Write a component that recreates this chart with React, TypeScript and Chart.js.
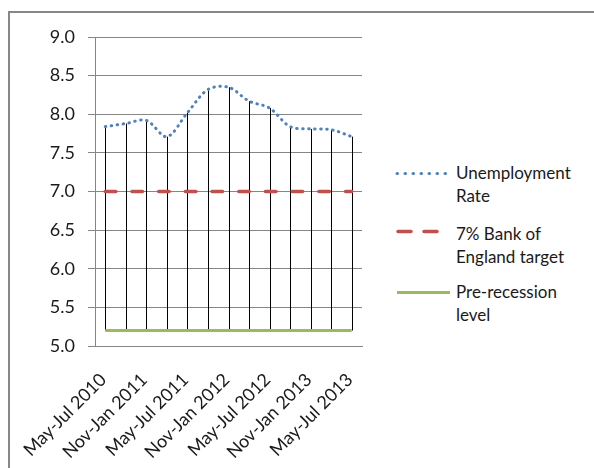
import React, { useEffect, useRef } from "react";
import { Chart, registerables } from "chart.js";

Chart.register(...registerables);

const categories = [
  "May-Jul 2010", "Aug-Oct 2010", "Nov-Jan 2011", "Feb-Apr 2011",
  "May-Jul 2011", "Aug-Oct 2011", "Nov-Jan 2012", "Feb-Apr 2012",
  "May-Jul 2012", "Aug-Oct 2012", "Nov-Jan 2013", "Feb-Apr 2013",
  "May-Jul 2013",
];
const unemploymentRate = [7.84, 7.88, 7.92, 7.71, 8.02, 8.32, 8.35, 8.17, 8.08, 7.84, 7.81, 7.8, 7.71];
const boeTarget = [7, 7, 7, 7, 7, 7, 7, 7, 7, 7, 7, 7, 7];
const preRecession = [5.2, 5.2, 5.2, 5.2, 5.2, 5.2, 5.2, 5.2, 5.2, 5.2, 5.2, 5.2, 5.2];
const seriesNames = ["Unemployment Rate", "7% Bank of England target", "Pre-recession level"];
const legendLines = [["Unemployment", "Rate"], ["7% Bank of", "England target"], ["Pre-recession", "level"]];

const BLUE = "#4F81BD";
const RED = "#C0504D";
const GREEN = "#9BBB59";
const GRID = "#868686";
const FONT = "Lato, 'Open Sans', sans-serif";

const highLowPlugin = {
  id: "highLow",
  beforeDatasetsDraw(chart: any) {
    const { ctx } = chart;
    const x = chart.scales.x;
    const y = chart.scales.y;
    const sets = chart.data.datasets;
    ctx.save();
    ctx.strokeStyle = "#000";
    ctx.lineWidth = 1;
    for (let i = 0; i < categories.length; i++) {
      const vals = sets.map((d: any) => d.data[i] as number);
      const hi = Math.max(...vals);
      const lo = Math.min(...vals);
      const px = Math.round(x.getPixelForValue(i)) + 0.5;
      ctx.beginPath();
      ctx.moveTo(px, y.getPixelForValue(hi));
      ctx.lineTo(px, y.getPixelForValue(lo));
      ctx.stroke();
    }
    ctx.restore();
  },
};

export default function App() {
  const ref = useRef<HTMLCanvasElement>(null);
  useEffect(() => {
    document.body.style.margin = "0";
    const chart = new Chart(ref.current!, {
      type: "line",
      data: {
        labels: categories,
        datasets: [
          {
            label: seriesNames[0],
            data: unemploymentRate,
            borderColor: BLUE,
            borderWidth: 3,
            borderDash: [0.5, 5.5],
            borderCapStyle: "round",
            tension: 0.33,
            pointRadius: 0,
            fill: false,
          },
          {
            label: seriesNames[1],
            data: boeTarget,
            borderColor: RED,
            borderWidth: 3.5,
            borderDash: [10.5, 16.2],
            borderCapStyle: "round",
            pointRadius: 0,
            fill: false,
          },
          {
            label: seriesNames[2],
            data: preRecession,
            borderColor: GREEN,
            borderWidth: 3,
            pointRadius: 0,
            fill: false,
          },
        ],
      },
      options: {
        animation: false,
        responsive: false,
        maintainAspectRatio: false,
        layout: { padding: { left: 0, top: 37, right: 18, bottom: 0 } },
        plugins: { legend: { display: false }, tooltip: { enabled: false } },
        scales: {
          x: {
            offset: true,
            grid: { display: false, drawTicks: false },
            border: { display: true, color: GRID },
            ticks: {
              autoSkip: false,
              minRotation: 45,
              maxRotation: 45,
              padding: 23,
              labelOffset: -2,
              color: "#1a1a1a",
              font: { family: FONT, size: 18 },
              callback: (_v: any, i: number) => (i % 2 === 0 ? categories[i] : ""),
            },
            afterFit: (s: any) => {
              s.height = 122;
              s.paddingLeft = 0;
              s.paddingRight = 0;
            },
          },
          y: {
            min: 5,
            max: 9,
            grid: { color: GRID, lineWidth: 1, tickLength: 7, drawTicks: true },
            border: { display: true, color: GRID },
            ticks: {
              stepSize: 0.5,
              padding: 13,
              color: "#1a1a1a",
              font: { family: FONT, size: 18 },
              callback: (v: any) => Number(v).toFixed(1),
            },
            afterFit: (s: any) => { s.width = 95; },
          },
        },
      },
      plugins: [highLowPlugin],
    });
    return () => chart.destroy();
  }, []);

  const legendTops = [161, 222, 280];
  return (
    <div style={{ position: "relative", width: 594, height: 468, overflow: "hidden", background: "#fff", fontFamily: FONT }}>
      <div style={{ position: "absolute", left: 8, top: 11, width: 620, height: 500, border: "2px solid #878787" }} />
      <canvas ref={ref} width={380} height={468} style={{ position: "absolute", left: 0, top: 0 }} />
      <svg width={60} height={200} style={{ position: "absolute", left: 392, top: 150 }}>
        <line x1={5} y1={23.5} x2={54} y2={23.5} stroke={BLUE} strokeWidth={3} strokeDasharray="0.5 7.5" strokeLinecap="round" />
        <line x1={6} y1={81.5} x2={46} y2={81.5} stroke={RED} strokeWidth={3.5} strokeDasharray="13 13" strokeLinecap="round" />
        <line x1={5} y1={142.5} x2={58} y2={142.5} stroke={GREEN} strokeWidth={3} />
      </svg>
      {legendLines.map((lines, k) => (
        <div key={k} style={{ position: "absolute", left: 456, top: legendTops[k], fontSize: 17, lineHeight: "23px", color: "#1a1a1a" }}>
          {lines.map((t, j) => (<div key={j}>{t}</div>))}
        </div>
      ))}
    </div>
  );
}
